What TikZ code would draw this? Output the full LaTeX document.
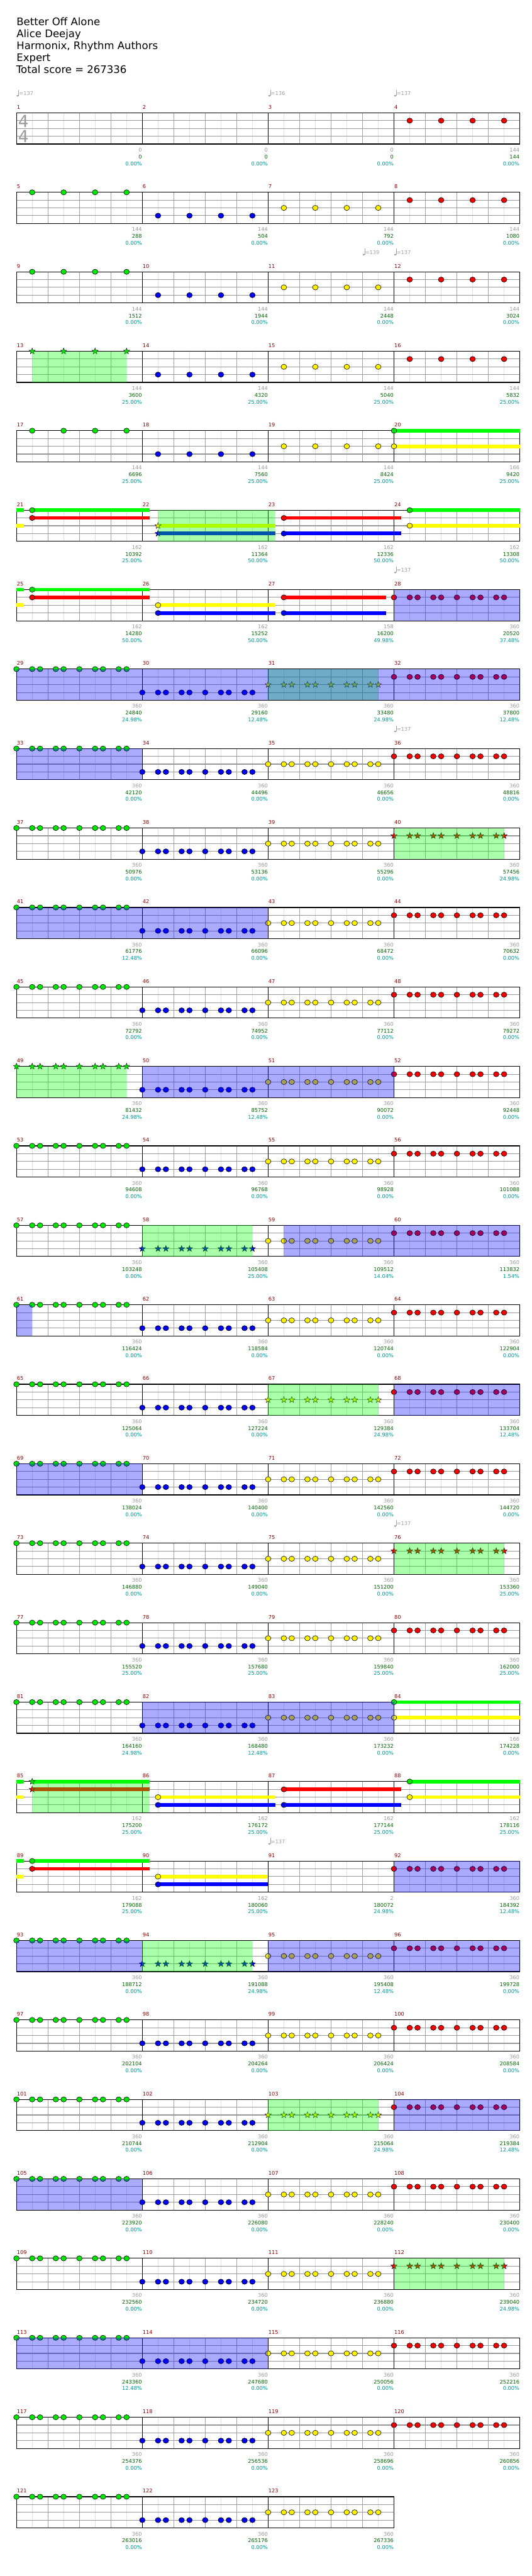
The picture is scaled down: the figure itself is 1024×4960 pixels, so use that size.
\documentclass[tikz,border=0pt]{standalone}
\usepackage{fontspec}
\setmainfont{DejaVu Sans}
\definecolor{nG}{RGB}{0,230,0}
\definecolor{nR}{RGB}{240,0,0}
\definecolor{nY}{RGB}{250,240,0}
\definecolor{nB}{RGB}{0,0,240}
\definecolor{bG}{RGB}{0,255,0}
\definecolor{bR}{RGB}{255,0,0}
\definecolor{bY}{RGB}{255,255,0}
\definecolor{bB}{RGB}{0,0,255}
\definecolor{oG}{RGB}{0,255,0}
\definecolor{oB}{RGB}{0,0,255}
\definecolor{cGray}{RGB}{153,153,153}
\definecolor{cScore}{RGB}{0,100,0}
\definecolor{cPct}{RGB}{0,150,150}
\definecolor{cMeas}{RGB}{140,0,0}
\definecolor{cTempo}{RGB}{160,160,160}
\definecolor{cLight}{RGB}{225,225,225}
\definecolor{cBeat}{RGB}{160,160,160}
\definecolor{cHor}{RGB}{153,153,153}
\def\xL{31.7}
\def\EW{30.29}
\def\MW{242.32}
\tikzset{
 lightln/.style={draw=cLight,line width=0.8pt},
 beatln/.style={draw=cBeat,line width=0.8pt},
 hln/.style={draw=cHor,line width=1.3pt},
 measln/.style={draw=black,line width=0.8pt},
 frameln/.style={draw=black,line width=1.4pt},
 lbl/.style={font=\fontsize{10}{12}\selectfont,inner sep=0pt,anchor=east},
 mnum/.style={font=\fontsize{10}{12}\selectfont,inner sep=0pt,anchor=west,text=cMeas},
 title/.style={font=\fontsize{20}{24}\selectfont,inner sep=0pt,anchor=base west},
}
\newcommand\Grid[4]{%
 \pgfmathsetmacro\RT{217.3+153*#1}%
 \pgfmathsetmacro\XR{\xL+#2*\MW}%
 \pgfmathtruncatemacro\NE{8*#2-1}%
 \pgfmathtruncatemacro\NB{4*#2-1}%
 \pgfmathtruncatemacro\NM{#2-1}%
 \foreach \i in {1,3,...,\NE}{\draw[lightln] ({\xL+\i*\EW},\RT) -- ++(0,60);}%
 \foreach \i in {1,...,\NB}{\draw[beatln] ({\xL+2*\i*\EW},\RT) -- ++(0,60);}%
 \foreach \j in {1,2,3}{\draw[hln] (\xL,{\RT+15*\j}) -- (\XR,{\RT+15*\j});}%
 \foreach \i in {1,...,\NM}{\draw[measln] ({\xL+\i*\MW},\RT) -- ++(0,60);}%
 \draw[frameln] (\xL,\RT) rectangle (\XR,{\RT+60});%
 \foreach \g/\s/\p [count=\i] in {#4}{%
  \pgfmathtruncatemacro\mn{#3+\i-1}%
  \node[mnum] (mn\mn) at ({\xL+(\i-1)*\MW+0.5},{\RT-11}) {\mn};%
  \node[lbl,text=cGray] (lg\mn) at ({\xL+\i*\MW-0.5},{\RT+71.5}) {\g};%
  \node[lbl,text=cScore] (ls\mn) at ({\xL+\i*\MW-0.5},{\RT+84.7}) {\s};%
  \node[lbl,text=cPct] (lp\mn) at ({\xL+\i*\MW-0.5},{\RT+97.7}) {\p\%};%
 }%
}
\newcommand\NoteAt[3]{\filldraw[fill=#3,draw=black,line width=0.7pt] ({\xL+(#1)*\EW},{\RT+15*(#2)}) ellipse [x radius=5.4pt, y radius=5pt];}
\newcommand\StarAt[3]{\filldraw[fill=#3,draw=black,line width=0.5pt,line join=miter] ({\xL+(#1)*\EW},{\RT+15*(#2)}) +(90:6.3pt) -- +(126:2.6pt) -- +(162:6.3pt) -- +(198:2.6pt) -- +(234:6.3pt) -- +(270:2.6pt) -- +(306:6.3pt) -- +(342:2.6pt) -- +(18:6.3pt) -- +(54:2.6pt) -- cycle;}
\newcommand\PatFour[4]{\foreach \q in {1,3,5,7}{#4{8*#1+\q}{#2}{#3}}}
\newcommand\PatTen[4]{\foreach \q in {0,1,1.5,2.5,3,4,5,5.5,6.5,7}{#4{8*#1+\q}{#2}{#3}}}
\newcommand\Sus[4]{\fill[#4] ({\xL+(#1)*\EW},{\RT+15*(#3)-3.5}) rectangle ({\xL+(#2)*\EW},{\RT+15*(#3)+3.5});}
\newcommand\Ovl[3]{\fill[#3,fill opacity=0.333] ({\xL+(#1)*\EW},\RT) rectangle ({\xL+(#2)*\EW},{\RT+60});}
\newcommand\Tempo[3]{%
 \pgfmathsetmacro\tx{\xL+(#2)*\EW}%
 \fill[cTempo] ({\tx+2.3},{\RT-33}) ellipse [x radius=2.4pt, y radius=1.8pt];%
 \draw[cTempo,line width=0.7pt] ({\tx+4.3},{\RT-33}) -- ({\tx+4.3},{\RT-44.5});%
 \node[lbl,text=cTempo,anchor=west] (#1) at ({\tx+5},{\RT-37.3}) {=#3};%
}
\newcommand\StdRow[1]{\PatTen{0}{0}{nG}{#1}}
\begin{document}
\begin{tikzpicture}[x=1pt,y=-1pt]
\useasboundingbox (0,0) rectangle (1024,4960);
\fill[white] (0,0) rectangle (1024,4960);
\node[title] (t1) at (31.7,49.3) {Better Off Alone};
\node[title] (t2) at (31.7,72.3) {Alice Deejay};
\node[title] (t3) at (31.7,95.3) {Harmonix, Rhythm Authors};
\node[title] (t4) at (31.7,118.3) {Expert};
\node[title] (t5) at (31.2,141.3) {Total score = 267336};
% row 0
\Grid{0}{4}{1}{0/0/0.00,0/0/0.00,0/0/0.00,144/144/0.00}
\node[font=\fontsize{32}{36}\selectfont,inner sep=0pt,text=cGray] (ts1) at (45,{\RT+16}) {4};
\node[font=\fontsize{32}{36}\selectfont,inner sep=0pt,text=cGray] (ts2) at (45,{\RT+45.5}) {4};
\PatFour{3}{1}{nR}{\NoteAt}
\Tempo{tp1}{0}{137}\Tempo{tp2}{16}{136}\Tempo{tp3}{24}{137}
% row 1
\Grid{1}{4}{5}{144/288/0.00,144/504/0.00,144/792/0.00,144/1080/0.00}
\PatFour{0}{0}{nG}{\NoteAt}\PatFour{1}{3}{nB}{\NoteAt}\PatFour{2}{2}{nY}{\NoteAt}\PatFour{3}{1}{nR}{\NoteAt}
% row 2
\Grid{2}{4}{9}{144/1512/0.00,144/1944/0.00,144/2448/0.00,144/3024/0.00}
\PatFour{0}{0}{nG}{\NoteAt}\PatFour{1}{3}{nB}{\NoteAt}\PatFour{2}{2}{nY}{\NoteAt}\PatFour{3}{1}{nR}{\NoteAt}
\Tempo{tp4}{22}{139}\Tempo{tp5}{24}{137}
% row 3
\Grid{3}{4}{13}{144/3600/25.00,144/4320/25.00,144/5040/25.00,144/5832/25.00}
\PatFour{0}{0}{nG}{\StarAt}\PatFour{1}{3}{nB}{\NoteAt}\PatFour{2}{2}{nY}{\NoteAt}\PatFour{3}{1}{nR}{\NoteAt}
\Ovl{1}{7}{oG}
% row 4
\Grid{4}{4}{17}{144/6696/25.00,144/7560/25.00,144/8424/25.00,166/9420/25.00}
\PatFour{0}{0}{nG}{\NoteAt}\PatFour{1}{3}{nB}{\NoteAt}\PatFour{2}{2}{nY}{\NoteAt}
\Sus{24}{32}{0}{bG}\Sus{24}{32}{2}{bY}\NoteAt{24}{0}{nG}\NoteAt{24}{2}{nY}
% row 5
\Grid{5}{4}{21}{162/10392/25.00,162/11364/50.00,162/12336/50.00,162/13308/50.00}
\Sus{0}{0.48}{0}{bG}\Sus{1}{8.47}{0}{bG}\Sus{1}{8.47}{1}{bR}\Sus{0}{0.48}{2}{bY}
\Sus{9}{16.48}{2}{bY}\Sus{9}{16.48}{3}{bB}\Sus{17}{24.47}{1}{bR}\Sus{17}{24.47}{3}{bB}
\Sus{25}{32}{0}{bG}\Sus{25}{32}{2}{bY}
\NoteAt{1}{0}{nG}\NoteAt{1}{1}{nR}\StarAt{9}{2}{nY}\StarAt{9}{3}{nB}
\NoteAt{17}{1}{nR}\NoteAt{17}{3}{nB}\NoteAt{25}{0}{nG}\NoteAt{25}{2}{nY}
\Ovl{9}{16.48}{oG}
% row 6
\Grid{6}{4}{25}{162/14280/50.00,162/15252/50.00,158/16200/49.98,360/20520/37.48}
\Sus{0}{0.48}{0}{bG}\Sus{1}{8.47}{0}{bG}\Sus{1}{8.47}{1}{bR}\Sus{0}{0.48}{2}{bY}
\Sus{9}{16.48}{2}{bY}\Sus{9}{16.48}{3}{bB}\Sus{17}{23.5}{1}{bR}\Sus{17}{23.5}{3}{bB}
\NoteAt{1}{0}{nG}\NoteAt{1}{1}{nR}\NoteAt{9}{2}{nY}\NoteAt{9}{3}{nB}
\NoteAt{17}{1}{nR}\NoteAt{17}{3}{nB}
\PatTen{3}{1}{nR}{\NoteAt}
\Ovl{24}{32}{oB}
\Tempo{tp6}{24}{137}
% row 7
\Grid{7}{4}{29}{360/24840/24.98,360/29160/12.48,360/33480/24.98,360/37800/12.48}
\PatTen{0}{0}{nG}{\NoteAt}\PatTen{1}{3}{nB}{\NoteAt}\PatTen{2}{2}{nY}{\StarAt}\PatTen{3}{1}{nR}{\NoteAt}
\Ovl{16}{23}{oG}\Ovl{0}{32}{oB}
% row 8
\Grid{8}{4}{33}{360/42120/0.00,360/44496/0.00,360/46656/0.00,360/48816/0.00}
\PatTen{0}{0}{nG}{\NoteAt}\PatTen{1}{3}{nB}{\NoteAt}\PatTen{2}{2}{nY}{\NoteAt}\PatTen{3}{1}{nR}{\NoteAt}
\Ovl{0}{8}{oB}
\Tempo{tp7}{24}{137}
% row 9
\Grid{9}{4}{37}{360/50976/0.00,360/53136/0.00,360/55296/0.00,360/57456/24.98}
\PatTen{0}{0}{nG}{\NoteAt}\PatTen{1}{3}{nB}{\NoteAt}\PatTen{2}{2}{nY}{\NoteAt}\PatTen{3}{1}{nR}{\StarAt}
\Ovl{24}{31}{oG}
% row 10
\Grid{10}{4}{41}{360/61776/12.48,360/66096/0.00,360/68472/0.00,360/70632/0.00}
\PatTen{0}{0}{nG}{\NoteAt}\PatTen{1}{3}{nB}{\NoteAt}\PatTen{2}{2}{nY}{\NoteAt}\PatTen{3}{1}{nR}{\NoteAt}
\Ovl{0}{16}{oB}
% row 11
\Grid{11}{4}{45}{360/72792/0.00,360/74952/0.00,360/77112/0.00,360/79272/0.00}
\PatTen{0}{0}{nG}{\NoteAt}\PatTen{1}{3}{nB}{\NoteAt}\PatTen{2}{2}{nY}{\NoteAt}\PatTen{3}{1}{nR}{\NoteAt}
% row 12
\Grid{12}{4}{49}{360/81432/24.98,360/85752/12.48,360/90072/0.00,360/92448/0.00}
\PatTen{0}{0}{nG}{\StarAt}\PatTen{1}{3}{nB}{\NoteAt}\PatTen{2}{2}{nY}{\NoteAt}\PatTen{3}{1}{nR}{\NoteAt}
\Ovl{0}{7}{oG}\Ovl{8}{24}{oB}
% row 13
\Grid{13}{4}{53}{360/94608/0.00,360/96768/0.00,360/98928/0.00,360/101088/0.00}
\PatTen{0}{0}{nG}{\NoteAt}\PatTen{1}{3}{nB}{\NoteAt}\PatTen{2}{2}{nY}{\NoteAt}\PatTen{3}{1}{nR}{\NoteAt}
% row 14
\Grid{14}{4}{57}{360/103248/0.00,360/105408/25.00,360/109512/14.04,360/113832/1.54}
\PatTen{0}{0}{nG}{\NoteAt}\PatTen{1}{3}{nB}{\StarAt}\PatTen{2}{2}{nY}{\NoteAt}\PatTen{3}{1}{nR}{\NoteAt}
\Ovl{8}{15}{oG}\Ovl{17}{32}{oB}
% row 15
\Grid{15}{4}{61}{360/116424/0.00,360/118584/0.00,360/120744/0.00,360/122904/0.00}
\PatTen{0}{0}{nG}{\NoteAt}\PatTen{1}{3}{nB}{\NoteAt}\PatTen{2}{2}{nY}{\NoteAt}\PatTen{3}{1}{nR}{\NoteAt}
\Ovl{0}{1}{oB}
% row 16
\Grid{16}{4}{65}{360/125064/0.00,360/127224/0.00,360/129384/24.98,360/133704/12.48}
\PatTen{0}{0}{nG}{\NoteAt}\PatTen{1}{3}{nB}{\NoteAt}\PatTen{2}{2}{nY}{\StarAt}\PatTen{3}{1}{nR}{\NoteAt}
\Ovl{16}{23}{oG}\Ovl{24}{32}{oB}
% row 17
\Grid{17}{4}{69}{360/138024/0.00,360/140400/0.00,360/142560/0.00,360/144720/0.00}
\PatTen{0}{0}{nG}{\NoteAt}\PatTen{1}{3}{nB}{\NoteAt}\PatTen{2}{2}{nY}{\NoteAt}\PatTen{3}{1}{nR}{\NoteAt}
\Ovl{0}{8}{oB}
% row 18
\Grid{18}{4}{73}{360/146880/0.00,360/149040/0.00,360/151200/0.00,360/153360/25.00}
\PatTen{0}{0}{nG}{\NoteAt}\PatTen{1}{3}{nB}{\NoteAt}\PatTen{2}{2}{nY}{\NoteAt}\PatTen{3}{1}{nR}{\StarAt}
\Ovl{24}{31}{oG}
\Tempo{tp8}{24}{137}
% row 19
\Grid{19}{4}{77}{360/155520/25.00,360/157680/25.00,360/159840/25.00,360/162000/25.00}
\PatTen{0}{0}{nG}{\NoteAt}\PatTen{1}{3}{nB}{\NoteAt}\PatTen{2}{2}{nY}{\NoteAt}\PatTen{3}{1}{nR}{\NoteAt}
% row 20
\Grid{20}{4}{81}{360/164160/24.98,360/168480/12.48,360/173232/0.00,166/174228/0.00}
\PatTen{0}{0}{nG}{\NoteAt}\PatTen{1}{3}{nB}{\NoteAt}\PatTen{2}{2}{nY}{\NoteAt}
\Sus{24}{32}{0}{bG}\Sus{24}{32}{2}{bY}\NoteAt{24}{0}{nG}\NoteAt{24}{2}{nY}
\Ovl{8}{24}{oB}
% row 21
\Grid{21}{4}{85}{162/175200/25.00,162/176172/25.00,162/177144/25.00,162/178116/25.00}
\Sus{0}{0.48}{0}{bG}\Sus{1}{8.47}{0}{bG}\Sus{1}{8.47}{1}{bR}\Sus{0}{0.48}{2}{bY}
\Sus{9}{16.48}{2}{bY}\Sus{9}{16.48}{3}{bB}\Sus{17}{24.47}{1}{bR}\Sus{17}{24.47}{3}{bB}
\Sus{25}{32}{0}{bG}\Sus{25}{32}{2}{bY}
\StarAt{1}{0}{nG}\StarAt{1}{1}{nR}\NoteAt{9}{2}{nY}\NoteAt{9}{3}{nB}
\NoteAt{17}{1}{nR}\NoteAt{17}{3}{nB}\NoteAt{25}{0}{nG}\NoteAt{25}{2}{nY}
\Ovl{1}{8.47}{oG}
% row 22
\Grid{22}{4}{89}{162/179088/25.00,162/180060/25.00,2/180072/24.98,360/184392/12.48}
\Sus{0}{0.48}{0}{bG}\Sus{1}{8.47}{0}{bG}\Sus{1}{8.47}{1}{bR}\Sus{0}{0.48}{2}{bY}
\Sus{9}{16}{2}{bY}\Sus{9}{16}{3}{bB}
\NoteAt{1}{0}{nG}\NoteAt{1}{1}{nR}\NoteAt{9}{2}{nY}\NoteAt{9}{3}{nB}
\PatTen{3}{1}{nR}{\NoteAt}
\Ovl{24}{32}{oB}
\Tempo{tp9}{16}{137}
% row 23
\Grid{23}{4}{93}{360/188712/0.00,360/191088/24.98,360/195408/12.48,360/199728/0.00}
\PatTen{0}{0}{nG}{\NoteAt}\PatTen{1}{3}{nB}{\StarAt}\PatTen{2}{2}{nY}{\NoteAt}\PatTen{3}{1}{nR}{\NoteAt}
\Ovl{8}{15}{oG}\Ovl{0}{8}{oB}\Ovl{16}{32}{oB}
% row 24
\Grid{24}{4}{97}{360/202104/0.00,360/204264/0.00,360/206424/0.00,360/208584/0.00}
\PatTen{0}{0}{nG}{\NoteAt}\PatTen{1}{3}{nB}{\NoteAt}\PatTen{2}{2}{nY}{\NoteAt}\PatTen{3}{1}{nR}{\NoteAt}
% row 25
\Grid{25}{4}{101}{360/210744/0.00,360/212904/0.00,360/215064/24.98,360/219384/12.48}
\PatTen{0}{0}{nG}{\NoteAt}\PatTen{1}{3}{nB}{\NoteAt}\PatTen{2}{2}{nY}{\StarAt}\PatTen{3}{1}{nR}{\NoteAt}
\Ovl{16}{23}{oG}\Ovl{24}{32}{oB}
% row 26
\Grid{26}{4}{105}{360/223920/0.00,360/226080/0.00,360/228240/0.00,360/230400/0.00}
\PatTen{0}{0}{nG}{\NoteAt}\PatTen{1}{3}{nB}{\NoteAt}\PatTen{2}{2}{nY}{\NoteAt}\PatTen{3}{1}{nR}{\NoteAt}
\Ovl{0}{8}{oB}
% row 27
\Grid{27}{4}{109}{360/232560/0.00,360/234720/0.00,360/236880/0.00,360/239040/24.98}
\PatTen{0}{0}{nG}{\NoteAt}\PatTen{1}{3}{nB}{\NoteAt}\PatTen{2}{2}{nY}{\NoteAt}\PatTen{3}{1}{nR}{\StarAt}
\Ovl{24}{31}{oG}
% row 28
\Grid{28}{4}{113}{360/243360/12.48,360/247680/0.00,360/250056/0.00,360/252216/0.00}
\PatTen{0}{0}{nG}{\NoteAt}\PatTen{1}{3}{nB}{\NoteAt}\PatTen{2}{2}{nY}{\NoteAt}\PatTen{3}{1}{nR}{\NoteAt}
\Ovl{0}{16}{oB}
% row 29
\Grid{29}{4}{117}{360/254376/0.00,360/256536/0.00,360/258696/0.00,360/260856/0.00}
\PatTen{0}{0}{nG}{\NoteAt}\PatTen{1}{3}{nB}{\NoteAt}\PatTen{2}{2}{nY}{\NoteAt}\PatTen{3}{1}{nR}{\NoteAt}
% row 30
\Grid{30}{3}{121}{360/263016/0.00,360/265176/0.00,360/267336/0.00}
\PatTen{0}{0}{nG}{\NoteAt}\PatTen{1}{3}{nB}{\NoteAt}\PatTen{2}{2}{nY}{\NoteAt}
\end{tikzpicture}
\end{document}
